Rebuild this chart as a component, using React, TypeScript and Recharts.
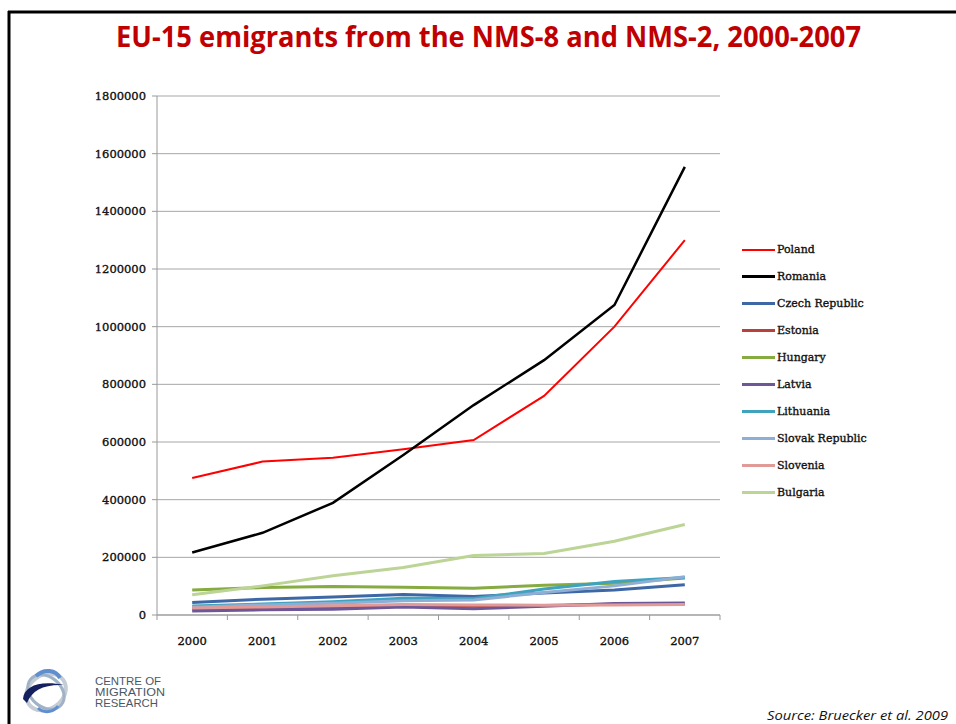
import React from "react";
import { LineChart, Line, XAxis, YAxis, CartesianGrid, Legend } from "recharts";

const YEARS = [2000, 2001, 2002, 2003, 2004, 2005, 2006, 2007];
const POLAND = [475000, 532000, 545000, 575000, 607000, 760000, 1000000, 1300000];
const ROMANIA = [217000, 285000, 389000, 555000, 728000, 884000, 1075000, 1554000];
const CZECH = [43000, 55000, 62000, 71000, 64000, 76000, 87000, 105000];
const ESTONIA = [20000, 25000, 27000, 32000, 30000, 33000, 37000, 38000];
const HUNGARY = [87000, 95000, 99000, 96000, 93000, 103000, 110000, 128000];
const LATVIA = [14000, 18000, 20000, 28000, 22000, 30000, 40000, 42000];
const LITHUANIA = [31000, 38000, 46000, 58000, 57000, 90000, 116000, 130000];
const SLOVAKIA = [27000, 35000, 41000, 49000, 52000, 78000, 101000, 133000];
const SLOVENIA = [24000, 28000, 32000, 36000, 35000, 34000, 35000, 36000];
const BULGARIA = [70000, 101000, 136000, 165000, 206000, 213000, 256000, 314000];
const Y_TICKS = [0, 200000, 400000, 600000, 800000, 1000000, 1200000, 1400000, 1600000, 1800000];

const SERIES = [
  { name: "Poland", values: POLAND, color: "#ff0000", width: 2 },
  { name: "Romania", values: ROMANIA, color: "#000000", width: 2.5 },
  { name: "Czech Republic", values: CZECH, color: "#3e67a6", width: 3 },
  { name: "Estonia", values: ESTONIA, color: "#b8413e", width: 3 },
  { name: "Hungary", values: HUNGARY, color: "#86ab40", width: 3 },
  { name: "Latvia", values: LATVIA, color: "#6e5796", width: 3 },
  { name: "Lithuania", values: LITHUANIA, color: "#3fa3bd", width: 3 },
  { name: "Slovak Republic", values: SLOVAKIA, color: "#8eaed6", width: 3 },
  { name: "Slovenia", values: SLOVENIA, color: "#e09a98", width: 3 },
  { name: "Bulgaria", values: BULGARIA, color: "#bcd496", width: 3 },
];

const data = YEARS.map((year, i) => {
  const row: Record<string, number> = { year };
  for (const s of SERIES) row[s.name] = s.values[i];
  return row;
});

// label at each year, small tick mark between years (Excel style)
const X_TICKS = [YEARS[0] - 0.5, ...YEARS.flatMap((y) => [y, y + 0.5])];

const TICK_FONT = {
  fontFamily: "DejaVu Serif, serif",
  fontSize: 11.5,
  fill: "#111",
  stroke: "#111",
  strokeWidth: 0.35,
};

function YearTick(props: any) {
  const { x, y, payload } = props;
  const v = payload.value;
  if (Number.isInteger(v)) {
    return (
      <text x={x} y={y + 30} textAnchor="middle" {...TICK_FONT}>
        {v}
      </text>
    );
  }
  return <line x1={x} x2={x} y1={y} y2={y + 5} stroke="#999" />;
}

// keep legend in series order (recharts sorts the payload by name)
function LegendList() {
  return (
    <div>
      {SERIES.map((s) => (
        <div
          key={s.name}
          style={{ height: 27, display: "flex", alignItems: "center" }}
        >
          <div
            style={{
              width: 33,
              height: s.width,
              background: s.color,
              marginRight: 2,
            }}
          />
          <span
            style={{
              fontFamily: "DejaVu Serif, serif",
              fontSize: 11,
              color: "#111",
              WebkitTextStroke: "0.35px #111",
            }}
          >
            {s.name}
          </span>
        </div>
      ))}
    </div>
  );
}

export default function App() {
  return (
    <div
      style={{
        position: "absolute",
        left: 0,
        top: 0,
        width: 956,
        height: 724,
        background: "#fff",
        overflow: "hidden",
      }}
    >
      <LineChart
        width={956}
        height={724}
        data={data}
        margin={{ top: 96, right: 236, bottom: 79, left: 77 }}
      >
        <CartesianGrid vertical={false} stroke="#a6a6a6" />
        <XAxis
          dataKey="year"
          type="number"
          domain={[1999.5, 2007.5]}
          ticks={X_TICKS}
          interval={0}
          tickLine={false}
          tickSize={0}
          tickMargin={0}
          height={30}
          axisLine={{ stroke: "#999" }}
          tick={<YearTick />}
        />
        <YAxis
          domain={[0, 1800000]}
          ticks={Y_TICKS}
          interval={0}
          width={80}
          tickSize={5}
          tickMargin={6}
          axisLine={{ stroke: "#999" }}
          tickLine={{ stroke: "#999" }}
          tick={TICK_FONT}
        />
        {SERIES.map((s) => (
          <Line
            key={s.name}
            type="linear"
            dataKey={s.name}
            name={s.name}
            stroke={s.color}
            strokeWidth={s.width}
            dot={false}
            activeDot={false}
            isAnimationActive={false}
          />
        ))}
        <Legend
          layout="vertical"
          align="center"
          verticalAlign="middle"
          content={<LegendList />}
          wrapperStyle={{ left: 742, top: 236, width: 200 }}
        />
      </LineChart>

      <svg
        width={956}
        height={724}
        style={{ position: "absolute", left: 0, top: 0, pointerEvents: "none" }}
      >
        <line x1={8} x2={956} y1={12} y2={12} stroke="#000" strokeWidth={3} />
        <line x1={9} x2={9} y1={11} y2={724} stroke="#000" strokeWidth={3} />
        <text
          x={116}
          y={47}
          textLength={745}
          lengthAdjust="spacingAndGlyphs"
          fill="#c00000"
          fontFamily="Open Sans, sans-serif"
          fontWeight={700}
          fontSize={28}
        >
          EU-15 emigrants from the NMS-8 and NMS-2, 2000-2007
        </text>

        <g>
          <ellipse cx={46} cy={692} rx={21} ry={17} transform="rotate(-35 46 692)" fill="none" stroke="#c4ccd6" strokeWidth={4} />
          <ellipse cx={46} cy={692} rx={20} ry={15} transform="rotate(40 46 692)" fill="none" stroke="#9fb2c6" strokeWidth={3} />
          <path d="M36 676 C44 668 56 670 60 678" fill="none" stroke="#5f8fcf" strokeWidth={4} />
          <path d="M38 708 C44 714 54 712 58 706" fill="none" stroke="#5f8fcf" strokeWidth={3} />
          <path d="M23 699 C24 686 40 680 64 685 C44 684 32 690 27 703 Z" fill="#14215e" />
        </g>
        <g fill="#4a5866" fontFamily="Liberation Sans, sans-serif" fontSize={11}>
          <text x={95} y={685} textLength={66} lengthAdjust="spacingAndGlyphs">CENTRE OF</text>
          <text x={95} y={696} textLength={70} lengthAdjust="spacingAndGlyphs">MIGRATION</text>
          <text x={95} y={707} textLength={63} lengthAdjust="spacingAndGlyphs">RESEARCH</text>
        </g>
        <text
          x={767}
          y={720}
          textLength={181}
          lengthAdjust="spacingAndGlyphs"
          fontFamily="Open Sans, sans-serif"
          fontStyle="italic"
          fontSize={12.5}
          fill="#111"
        >
          Source: Bruecker et al. 2009
        </text>
      </svg>
    </div>
  );
}
